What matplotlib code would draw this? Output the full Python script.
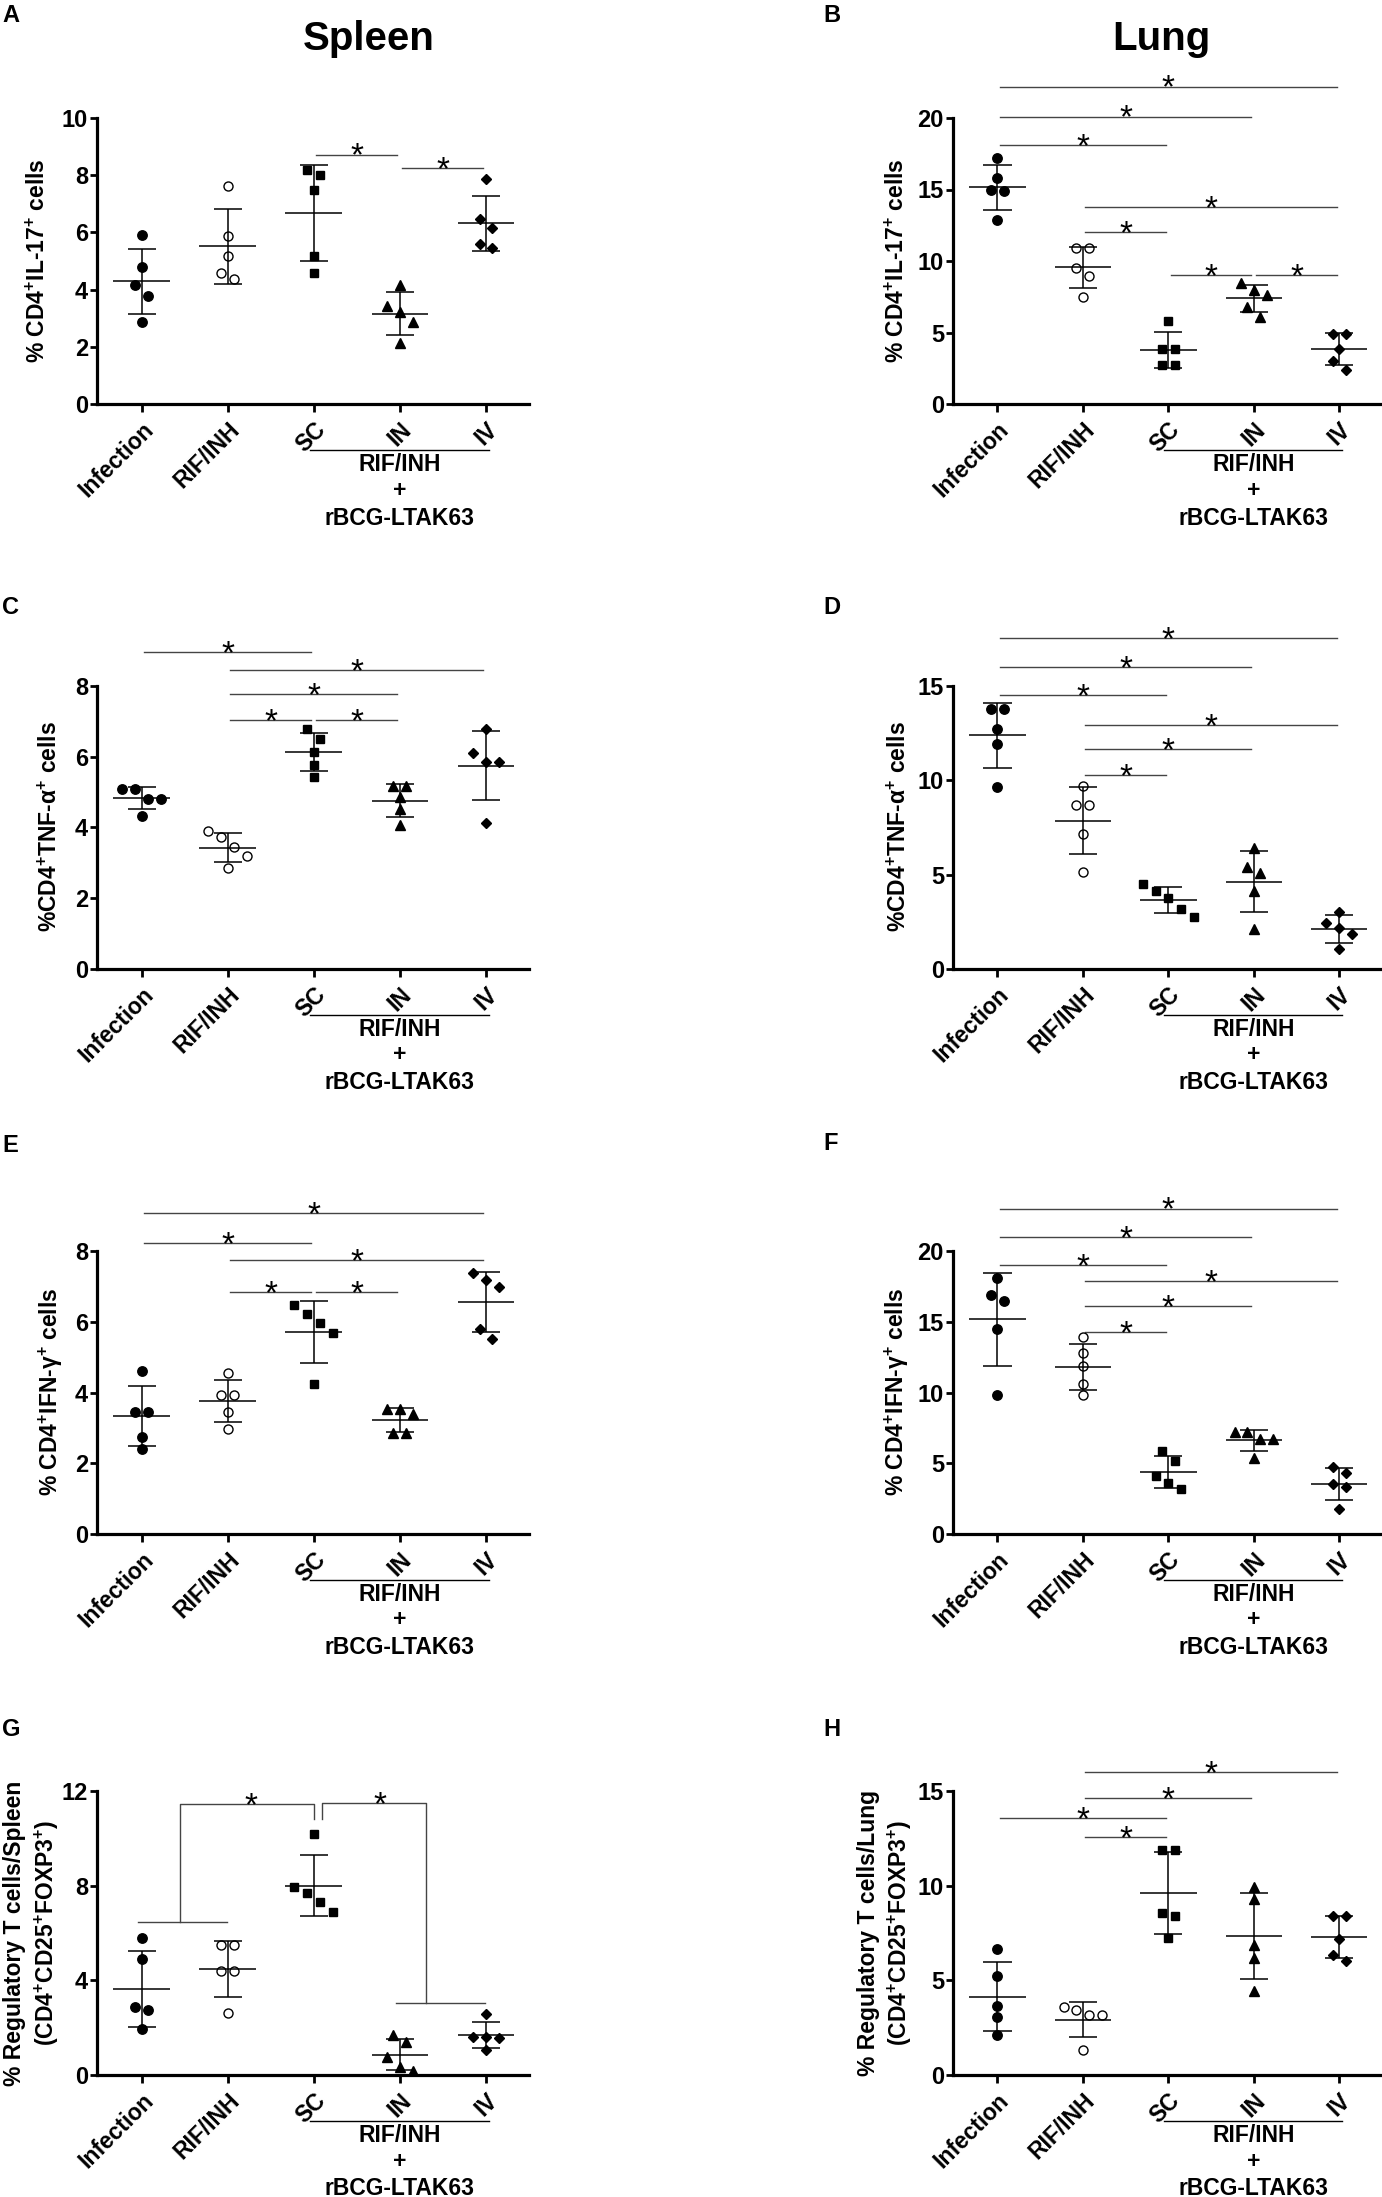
import numpy as np
import matplotlib
matplotlib.use("Agg")
import matplotlib.pyplot as plt
from matplotlib.transforms import blended_transform_factory

# groups: Infection, RIF/INH, SC, IN, IV  (5 mice each)
groups = ["Infection", "RIF/INH", "SC", "IN", "IV"]

# A - spleen IL-17
inf_A = [5.91, 4.78, 4.15, 3.77, 2.87]
rif_A = [7.62, 5.87, 5.16, 4.59, 4.36]
sc_A = [8.18, 8.01, 7.48, 5.19, 4.59]
in_A = [4.15, 3.43, 3.23, 2.87, 2.14]
iv_A = [7.86, 6.48, 6.15, 5.60, 5.47]
sig_A = [(2, 3, 8.72), (3, 4, 8.25)]

# B - lung IL-17
inf_B = [17.2, 15.8, 15.0, 14.9, 12.9]
rif_B = [10.9, 10.9, 9.5, 8.98, 7.5]
sc_B = [5.8, 3.86, 3.86, 2.72, 2.72]
in_B = [8.45, 8.0, 7.64, 6.8, 6.1]
iv_B = [4.92, 4.92, 3.86, 3.03, 2.4]
sig_B = [(0, 4, 22.2), (0, 3, 20.1), (0, 2, 18.1), (1, 4, 13.8), (1, 2, 12.05), (2, 3, 9.03), (3, 4, 9.03)]

# C - spleen TNF-a
inf_C = [5.10, 5.10, 4.81, 4.81, 4.32]
rif_C = [3.90, 3.73, 3.46, 3.20, 2.86]
sc_C = [6.78, 6.49, 6.13, 5.77, 5.44]
in_C = [5.17, 5.17, 4.86, 4.52, 4.08]
iv_C = [6.79, 6.11, 5.86, 5.86, 4.13]
sig_C = [(0, 2, 8.96), (1, 4, 8.44), (1, 3, 7.76), (1, 2, 7.03), (2, 3, 7.03)]

# D - lung TNF-a
inf_D = [13.8, 13.8, 12.73, 11.94, 9.66]
rif_D = [9.69, 8.69, 8.69, 7.13, 5.12]
sc_D = [4.48, 4.13, 3.75, 3.2, 2.76]
in_D = [6.4, 5.4, 5.08, 4.12, 2.12]
iv_D = [3.04, 2.43, 2.16, 1.85, 1.06]
sig_D = [(0, 4, 17.52), (0, 3, 16.02), (0, 2, 14.54), (1, 4, 12.93), (1, 3, 11.67), (1, 2, 10.3)]

# E - spleen IFN-g
inf_E = [4.61, 3.46, 3.46, 2.75, 2.40]
rif_E = [4.54, 3.92, 3.92, 3.46, 2.96]
sc_E = [6.48, 6.21, 5.97, 5.69, 4.25]
in_E = [3.52, 3.52, 3.39, 2.86, 2.86]
iv_E = [7.37, 7.17, 6.97, 5.79, 5.50]
sig_E = [(0, 4, 9.08), (0, 2, 8.23), (1, 4, 7.75), (1, 2, 6.84), (2, 3, 6.84)]

# F - lung IFN-g
inf_F = [18.1, 16.9, 16.5, 14.5, 9.8]
rif_F = [13.9, 12.8, 11.9, 10.6, 9.8]
sc_F = [5.87, 5.19, 4.1, 3.6, 3.2]
in_F = [7.2, 7.2, 6.7, 6.7, 5.39]
iv_F = [4.76, 4.3, 3.5, 3.29, 1.77]
sig_F = [(0, 4, 23.0), (0, 3, 20.96), (0, 2, 18.99), (1, 4, 17.85), (1, 3, 16.1), (1, 2, 14.3)]

# G - Treg spleen
inf_G = [5.77, 4.9, 2.89, 2.75, 1.96]
rif_G = [5.48, 5.48, 4.39, 4.39, 2.62]
sc_G = [10.18, 7.93, 7.67, 7.3, 6.87]
in_G = [1.67, 1.41, 0.76, 0.32, 0.17]
iv_G = [2.57, 1.6, 1.6, 1.56, 1.05]

# H - Treg lung
inf_H = [6.67, 5.25, 3.62, 3.04, 2.13]
rif_H = [3.58, 3.44, 3.16, 3.16, 1.31]
sc_H = [11.89, 11.89, 8.58, 8.4, 7.25]
in_H = [9.95, 9.27, 6.89, 6.16, 4.45]
iv_H = [8.4, 8.4, 7.16, 6.35, 6.04]
sig_H = [(1, 4, 16.0), (1, 3, 14.62), (0, 2, 13.58), (1, 2, 12.55)]

plt.rcParams["font.family"] = ["Liberation Sans", "DejaVu Sans"]
plt.rcParams["font.weight"] = "bold"
plt.rcParams["mathtext.fontset"] = "custom"
plt.rcParams["mathtext.rm"] = "Liberation Sans:bold"
plt.rcParams["mathtext.bf"] = "Liberation Sans:bold"
plt.rcParams["mathtext.it"] = "Liberation Sans:bold"

W, H = 1382, 2197
fig = plt.figure(figsize=(W / 100, H / 100), dpi=100)

FS = 16.5  # main text size

markers = [dict(marker="o", ms=6.8, mfc="k", mec="k"),
           dict(marker="o", ms=6.5, mfc="white", mec="k", mew=1.0),
           dict(marker="s", ms=6.2, mfc="k", mec="k"),
           dict(marker="^", ms=7.0, mfc="k", mec="k"),
           dict(marker="D", ms=5.2, mfc="k", mec="k")]


def add_ax(left, top, width, height):
    return fig.add_axes([left / W, 1 - (top + height) / H, width / W, height / H])


def spread(vals, ymax, hpx=285, thr=11, step=0.15):
    # simple column scatter: points closer than thr pixels go side by side
    vals = np.asarray(vals, float)
    order = np.argsort(-vals, kind="stable")
    ppy = hpx / ymax
    clusters = [[order[0]]]
    for a, b in zip(order[:-1], order[1:]):
        if (vals[a] - vals[b]) * ppy < thr:
            clusters[-1].append(b)
        else:
            clusters.append([b])
    xs = np.zeros(len(vals))
    for c in clusters:
        for k, idx in enumerate(c):
            xs[idx] = (k - (len(c) - 1) / 2) * step
    return xs


def star(ax, x, y):
    ax.annotate("*", xy=(x, y), xytext=(0, -8), textcoords="offset points",
                ha="center", va="baseline", fontsize=24, fontweight="normal",
                annotation_clip=False)


def panel(ax, data, ymax, ystep, sigs):
    ax.set_xlim(-0.52, 4.5)
    ax.set_ylim(0, ymax)
    for s in ["top", "right"]:
        ax.spines[s].set_visible(False)
    for s in ["left", "bottom"]:
        ax.spines[s].set_linewidth(2.3)
    ax.tick_params(axis="both", direction="out", width=2)
    ax.tick_params(axis="y", length=5, pad=1.5, labelsize=17)
    ax.tick_params(axis="x", length=6, pad=4)
    ax.set_yticks(np.arange(0, ymax + 0.01, ystep))
    ax.set_xticks(range(5))
    ax.set_xticklabels(groups, rotation=45, ha="right", va="top", rotation_mode="anchor", fontsize=FS)

    for i, vals in enumerate(data):
        xs = i + spread(vals, ymax)
        ax.plot(xs, vals, ls="none", zorder=3, **markers[i])
        m = np.mean(vals)
        sd = np.std(vals, ddof=1)
        ax.hlines(m, i - 0.33, i + 0.33, color="k", lw=1.1, zorder=4)
        ax.hlines([m - sd, m + sd], i - 0.165, i + 0.165, color="k", lw=1.1, zorder=4)
        ax.vlines(i, m - sd, m + sd, color="k", lw=1.1, zorder=4)

    for a, b, y in sigs:
        ax.plot([a + 0.03, b - 0.03], [y, y], color="#444444", lw=1.0, clip_on=False)
        star(ax, (a + b) / 2, y)

    tr = blended_transform_factory(ax.transData, ax.transAxes)
    ax.plot([1.95, 4.03], [-0.161, -0.161], transform=tr, color="k", lw=1.0, clip_on=False)
    ax.text(3, -0.213, "RIF/INH", transform=tr, ha="center", va="center", fontsize=FS)
    ax.text(3, -0.303, "+", transform=tr, ha="center", va="center", fontsize=FS)
    ax.text(3, -0.400, "rBCG-LTAK63", transform=tr, ha="center", va="center", fontsize=FS)


def bracket(ax, pair, xv, x_in, base, top, drop):
    # G-style bracket: bar over a pair of groups joined to one group
    ax.plot([pair[0] - 0.04, pair[1] - 0.01], [base, base], color="#444444", lw=1.0, clip_on=False)
    ax.plot([xv, xv, x_in, x_in], [base, top, top, drop], color="#444444", lw=1.0, clip_on=False)


rows = [(118, 404), (686, 969), (1251, 1534), (1791, 2075)]
lx, lw_ = 97, 432
rx, rw = 953, 429

axA = add_ax(lx, rows[0][0], lw_, rows[0][1] - rows[0][0])
panel(axA, [inf_A, rif_A, sc_A, in_A, iv_A], 10, 2, sig_A)
axB = add_ax(rx, rows[0][0], rw, rows[0][1] - rows[0][0])
panel(axB, [inf_B, rif_B, sc_B, in_B, iv_B], 20, 5, sig_B)
axC = add_ax(lx, rows[1][0], lw_, rows[1][1] - rows[1][0])
panel(axC, [inf_C, rif_C, sc_C, in_C, iv_C], 8, 2, sig_C)
axD = add_ax(rx, rows[1][0], rw, rows[1][1] - rows[1][0])
panel(axD, [inf_D, rif_D, sc_D, in_D, iv_D], 15, 5, sig_D)
axE = add_ax(lx, rows[2][0], lw_, rows[2][1] - rows[2][0])
panel(axE, [inf_E, rif_E, sc_E, in_E, iv_E], 8, 2, sig_E)
axF = add_ax(rx, rows[2][0], rw, rows[2][1] - rows[2][0])
panel(axF, [inf_F, rif_F, sc_F, in_F, iv_F], 20, 5, sig_F)
axG = add_ax(lx, rows[3][0], lw_, rows[3][1] - rows[3][0])
panel(axG, [inf_G, rif_G, sc_G, in_G, iv_G], 12, 4, [])
axH = add_ax(rx, rows[3][0], rw, rows[3][1] - rows[3][0])
panel(axH, [inf_H, rif_H, sc_H, in_H, iv_H], 15, 5, sig_H)

# brackets in G
bracket(axG, (0, 1), 0.45, 2.0, 6.47, 11.45, 10.8)
bracket(axG, (3, 4), 3.3, 2.1, 3.04, 11.49, 10.8)
star(axG, 1.27, 11.45)
star(axG, 2.77, 11.49)


def ftext(x, y, s, **kw):
    fig.text(x / W, 1 - y / H, s, **kw)


ftext(369, 39, "Spleen", ha="center", va="center", fontsize=29)
ftext(1161, 39, "Lung", ha="center", va="center", fontsize=29)
for letter, x, y in [("A", 2, 16), ("B", 823, 15), ("C", 2, 608), ("D", 823, 608),
                     ("E", 2, 1145), ("F", 823, 1143), ("G", 2, 1729), ("H", 823, 1729)]:
    ftext(x, y, letter, ha="left", va="center", fontsize=17)

yl_il17 = "% CD4$^{+}$IL-17$^{+}$ cells"
yl_tnf = "%CD4$^{+}$TNF-\u03b1$^{+}$ cells"
yl_ifn = "% CD4$^{+}$IFN-\u03b3$^{+}$ cells"
yl_treg = "(CD4$^{+}$CD25$^{+}$FOXP3$^{+}$)"
for x, y, s in [(38, 261, yl_il17), (897, 261, yl_il17),
                (50, 827, yl_tnf), (899, 827, yl_tnf),
                (51, 1392, yl_ifn), (897, 1392, yl_ifn),
                (15, 1933, "% Regulatory T cells/Spleen"), (47, 1933, yl_treg),
                (868, 1933, "% Regulatory T cells/Lung"), (900, 1933, yl_treg)]:
    ftext(x, y, s, rotation=90, ha="center", va="center", fontsize=FS)

fig.savefig("out.png", dpi=100)
